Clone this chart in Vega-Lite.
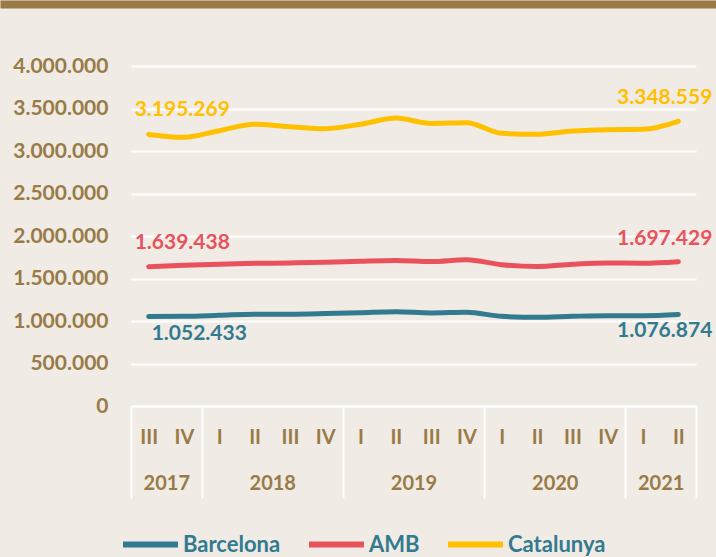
{
  "$schema": "https://vega.github.io/schema/vega-lite/v6.json",
  "width": 565,
  "height": 340,
  "padding": {"left": -4, "top": 0, "right": 0, "bottom": 0},
  "background": "#f0ebe5",
  "config": {
    "view": {"stroke": null},
    "font": "Lato",
    "locale": {"number": {"decimal": ",", "thousands": ".", "grouping": [3], "currency": ["", " €"]}}
  },
  "data": {"values": [
    {"q": 0, "periode": "2017 III", "serie": "Barcelona", "valor": 1052433},
    {"q": 1, "periode": "2017 IV", "serie": "Barcelona", "valor": 1055000},
    {"q": 2, "periode": "2018 I", "serie": "Barcelona", "valor": 1067000},
    {"q": 3, "periode": "2018 II", "serie": "Barcelona", "valor": 1080000},
    {"q": 4, "periode": "2018 III", "serie": "Barcelona", "valor": 1080000},
    {"q": 5, "periode": "2018 IV", "serie": "Barcelona", "valor": 1087000},
    {"q": 6, "periode": "2019 I", "serie": "Barcelona", "valor": 1098000},
    {"q": 7, "periode": "2019 II", "serie": "Barcelona", "valor": 1110000},
    {"q": 8, "periode": "2019 III", "serie": "Barcelona", "valor": 1095000},
    {"q": 9, "periode": "2019 IV", "serie": "Barcelona", "valor": 1103000},
    {"q": 10, "periode": "2020 I", "serie": "Barcelona", "valor": 1055000},
    {"q": 11, "periode": "2020 II", "serie": "Barcelona", "valor": 1043000},
    {"q": 12, "periode": "2020 III", "serie": "Barcelona", "valor": 1055000},
    {"q": 13, "periode": "2020 IV", "serie": "Barcelona", "valor": 1063000},
    {"q": 14, "periode": "2021 I", "serie": "Barcelona", "valor": 1063000},
    {"q": 15, "periode": "2021 II", "serie": "Barcelona", "valor": 1076874},
    {"q": 0, "periode": "2017 III", "serie": "AMB", "valor": 1639438},
    {"q": 1, "periode": "2017 IV", "serie": "AMB", "valor": 1655000},
    {"q": 2, "periode": "2018 I", "serie": "AMB", "valor": 1668000},
    {"q": 3, "periode": "2018 II", "serie": "AMB", "valor": 1678000},
    {"q": 4, "periode": "2018 III", "serie": "AMB", "valor": 1683000},
    {"q": 5, "periode": "2018 IV", "serie": "AMB", "valor": 1690000},
    {"q": 6, "periode": "2019 I", "serie": "AMB", "valor": 1703000},
    {"q": 7, "periode": "2019 II", "serie": "AMB", "valor": 1712000},
    {"q": 8, "periode": "2019 III", "serie": "AMB", "valor": 1700000},
    {"q": 9, "periode": "2019 IV", "serie": "AMB", "valor": 1720000},
    {"q": 10, "periode": "2020 I", "serie": "AMB", "valor": 1662000},
    {"q": 11, "periode": "2020 II", "serie": "AMB", "valor": 1642000},
    {"q": 12, "periode": "2020 III", "serie": "AMB", "valor": 1668000},
    {"q": 13, "periode": "2020 IV", "serie": "AMB", "valor": 1683000},
    {"q": 14, "periode": "2021 I", "serie": "AMB", "valor": 1680000},
    {"q": 15, "periode": "2021 II", "serie": "AMB", "valor": 1697429},
    {"q": 0, "periode": "2017 III", "serie": "Catalunya", "valor": 3195269},
    {"q": 1, "periode": "2017 IV", "serie": "Catalunya", "valor": 3161000},
    {"q": 2, "periode": "2018 I", "serie": "Catalunya", "valor": 3239000},
    {"q": 3, "periode": "2018 II", "serie": "Catalunya", "valor": 3314000},
    {"q": 4, "periode": "2018 III", "serie": "Catalunya", "valor": 3286000},
    {"q": 5, "periode": "2018 IV", "serie": "Catalunya", "valor": 3263000},
    {"q": 6, "periode": "2019 I", "serie": "Catalunya", "valor": 3314000},
    {"q": 7, "periode": "2019 II", "serie": "Catalunya", "valor": 3388000},
    {"q": 8, "periode": "2019 III", "serie": "Catalunya", "valor": 3325000},
    {"q": 9, "periode": "2019 IV", "serie": "Catalunya", "valor": 3333000},
    {"q": 10, "periode": "2020 I", "serie": "Catalunya", "valor": 3208000},
    {"q": 11, "periode": "2020 II", "serie": "Catalunya", "valor": 3196000},
    {"q": 12, "periode": "2020 III", "serie": "Catalunya", "valor": 3235000},
    {"q": 13, "periode": "2020 IV", "serie": "Catalunya", "valor": 3251000},
    {"q": 14, "periode": "2021 I", "serie": "Catalunya", "valor": 3255000},
    {"q": 15, "periode": "2021 II", "serie": "Catalunya", "valor": 3348559}
  ]},
  "resolve": {"axis": {"x": "independent", "y": "independent"}},
  "encoding": {
    "color": {"field": "serie", "type": "nominal",
      "scale": {"domain": ["Barcelona", "AMB", "Catalunya"], "range": ["#327a8f", "#e9525b", "#ffc000"]},
      "legend": {"orient": "none", "legendX": -11, "legendY": 448, "direction": "horizontal", "title": null, "gridAlign": "none",
        "symbolType": "stroke", "symbolSize": 3025, "symbolStrokeWidth": 6, "labelOffset": 2, "columnPadding": 16,
        "labelFont": "Lato", "labelFontSize": 22, "labelFontWeight": "bold", "labelColor": "#327a8f"}}
  },
  "layer": [
    {
      "mark": {"type": "line", "strokeWidth": 5, "strokeCap": "round", "interpolate": "monotone"},
      "encoding": {
        "x": {"field": "q", "type": "quantitative",
          "scale": {"domain": [-0.5, 15.5], "nice": false, "zero": false},
          "axis": {"orient": "bottom", "title": null, "values": [0,1,2,3,4,5,6,7,8,9,10,11,12,13,14,15],
            "labelExpr": "['III','IV','I','II','III','IV','I','II','III','IV','I','II','III','IV','I','II'][datum.value]",
            "grid": false, "ticks": false, "tickSize": 0, "domain": false, "labelFlush": false, "labelOverlap": false,
            "labelBaseline": "middle", "labelPadding": 31, "labelFont": "Lato", "labelFontSize": 20, "labelFontWeight": "bold", "labelColor": "#987b47"}},
        "y": {"field": "valor", "type": "quantitative",
          "scale": {"domain": [0, 4000000], "nice": false},
          "axis": {"orient": "left", "title": null, "values": [0,500000,1000000,1500000,2000000,2500000,3000000,3500000,4000000],
            "format": ",.0f", "grid": true, "gridColor": "#ffffff", "gridWidth": 2, "ticks": false, "domain": false,
            "labelPadding": 23, "minExtent": 120, "maxExtent": 120,
            "labelFont": "Lato", "labelFontSize": 21, "labelFontWeight": "bold", "labelColor": "#987b47"}}
      }
    },
    {
      "transform": [{"filter": "datum.q == 0 && datum.serie != 'Barcelona'"}],
      "mark": {"type": "text", "align": "left", "baseline": "middle", "dx": -14, "dy": -24, "font": "Lato", "fontSize": 21, "fontWeight": "bold"},
      "encoding": {
        "x": {"field": "q", "type": "quantitative",
          "axis": {"orient": "bottom", "title": null, "values": [0.5, 3.5, 7.5, 11.5, 14.5],
            "labelExpr": "datum.value < 1 ? '2017' : datum.value < 4 ? '2018' : datum.value < 8 ? '2019' : datum.value < 12 ? '2020' : '2021'",
            "grid": false, "ticks": false, "tickSize": 0, "domain": false, "labelFlush": false, "labelOverlap": false,
            "labelBaseline": "middle", "labelPadding": 77, "labelFont": "Lato", "labelFontSize": 20, "labelFontWeight": "bold", "labelColor": "#987b47"}},
        "y": {"field": "valor", "type": "quantitative",
          "axis": {"orient": "right", "title": null, "values": [4000000], "offset": -696, "tickOffset": -62,
            "labels": false, "grid": false, "domain": false, "ticks": true, "tickSize": 716, "tickWidth": 8, "tickColor": "#9a7b47",
            "minExtent": 0, "maxExtent": 0}},
        "text": {"field": "valor", "type": "quantitative", "format": ",.0f"}
      }
    },
    {
      "transform": [{"filter": "datum.q == 0 && datum.serie == 'Barcelona'"}],
      "mark": {"type": "text", "align": "left", "baseline": "middle", "dx": 3, "dy": 17, "font": "Lato", "fontSize": 21, "fontWeight": "bold"},
      "encoding": {
        "x": {"field": "q", "type": "quantitative",
          "axis": {"orient": "bottom", "title": null, "values": [-0.5, 1.5, 5.5, 9.5, 13.5, 15.5],
            "labels": false, "grid": false, "ticks": true, "tickSize": 92, "tickWidth": 2, "tickColor": "#ffffff",
            "domain": true, "domainColor": "#ffffff", "domainWidth": 2}},
        "y": {"field": "valor", "type": "quantitative", "axis": null},
        "text": {"field": "valor", "type": "quantitative", "format": ",.0f"}
      }
    },
    {
      "transform": [{"filter": "datum.q == 15 && datum.serie != 'Barcelona'"}],
      "mark": {"type": "text", "align": "right", "baseline": "middle", "dx": 34, "dy": -23, "font": "Lato", "fontSize": 21, "fontWeight": "bold"},
      "encoding": {
        "x": {"field": "q", "type": "quantitative", "axis": null},
        "y": {"field": "valor", "type": "quantitative", "axis": null},
        "text": {"field": "valor", "type": "quantitative", "format": ",.0f"}
      }
    },
    {
      "transform": [{"filter": "datum.q == 15 && datum.serie == 'Barcelona'"}],
      "mark": {"type": "text", "align": "right", "baseline": "middle", "dx": 34, "dy": 17, "font": "Lato", "fontSize": 21, "fontWeight": "bold"},
      "encoding": {
        "x": {"field": "q", "type": "quantitative", "axis": null},
        "y": {"field": "valor", "type": "quantitative", "axis": null},
        "text": {"field": "valor", "type": "quantitative", "format": ",.0f"}
      }
    }
  ]
}
